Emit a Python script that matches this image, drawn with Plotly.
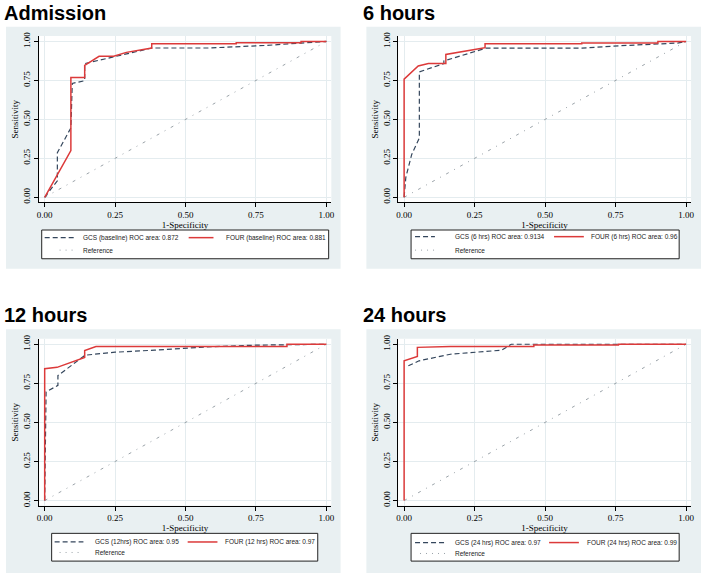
import plotly.graph_objects as go

W, H = 704, 574

# ---------------- data ----------------
panel_titles = ["Admission", "6 hours", "12 hours", "24 hours"]

gcs_adm_x = [0, 0.045, 0.045, 0.093, 0.098, 0.142, 0.142, 0.245, 0.38, 0.58, 0.68, 0.79, 0.91, 1.0]
gcs_adm_y = [0, 0.106, 0.286, 0.445, 0.731, 0.748, 0.858, 0.9, 0.958, 0.958, 0.966, 0.975, 0.99, 1.0]
four_adm_x = [0, 0.093, 0.093, 0.142, 0.142, 0.193, 0.245, 0.29, 0.38, 0.38, 0.68, 0.68, 0.91, 0.91, 1.0]
four_adm_y = [0, 0.30, 0.769, 0.769, 0.847, 0.905, 0.905, 0.93, 0.958, 0.985, 0.985, 0.992, 0.992, 1.0, 1.0]

gcs_6h_x = [0, 0.006, 0.027, 0.054, 0.054, 0.141, 0.141, 0.25, 0.29, 0.63, 0.76, 0.97, 1.0]
gcs_6h_y = [0, 0.127, 0.275, 0.381, 0.805, 0.858, 0.875, 0.932, 0.957, 0.957, 0.972, 0.99, 1.0]
four_6h_x = [0, 0, 0.05, 0.086, 0.148, 0.148, 0.25, 0.287, 0.287, 0.63, 0.63, 0.9, 0.9, 1.0]
four_6h_y = [0, 0.758, 0.843, 0.858, 0.858, 0.917, 0.949, 0.96, 0.985, 0.985, 0.99, 0.99, 1.0, 1.0]

gcs_12h_x = [0, 0.005, 0.047, 0.047, 0.144, 0.25, 0.39, 0.47, 0.6, 0.75, 1.0]
gcs_12h_y = [0, 0.695, 0.737, 0.80, 0.93, 0.949, 0.962, 0.972, 0.985, 0.994, 1.0]
four_12h_x = [0, 0, 0.044, 0.142, 0.142, 0.182, 0.86, 0.86, 1.0]
four_12h_y = [0, 0.843, 0.852, 0.915, 0.96, 0.985, 0.985, 1.0, 1.0]

gcs_24h_x = [0.015, 0.053, 0.164, 0.25, 0.346, 0.38, 1.0]
gcs_24h_y = [0.862, 0.894, 0.936, 0.95, 0.962, 1.0, 1.0]
four_24h_x = [0, 0, 0.047, 0.047, 0.164, 0.46, 0.46, 0.76, 0.76, 1.0]
four_24h_y = [0, 0.894, 0.922, 0.98, 0.985, 0.985, 0.995, 0.995, 1.0, 1.0]

ref_x = [0, 1]
ref_y = [0, 1]

gcs_labels = ["GCS (baseline) ROC area: 0.872", "GCS (6 hrs) ROC area: 0.9134",
              "GCS (12hrs) ROC area: 0.95", "GCS (24 hrs) ROC area: 0.97"]
four_labels = ["FOUR (baseline) ROC area: 0.881", "FOUR (6 hrs) ROC area: 0.96",
               "FOUR (12 hrs) ROC area: 0.97", "FOUR (24 hrs) ROC area: 0.99"]
ref_label = "Reference"

tick_vals = [0, 0.25, 0.5, 0.75, 1.0]
tick_text = ["0.00", "0.25", "0.50", "0.75", "1.00"]

gcs_series = [(gcs_adm_x, gcs_adm_y), (gcs_6h_x, gcs_6h_y), (gcs_12h_x, gcs_12h_y), (gcs_24h_x, gcs_24h_y)]
four_series = [(four_adm_x, four_adm_y), (four_6h_x, four_6h_y), (four_12h_x, four_12h_y), (four_24h_x, four_24h_y)]

# ---------------- layout geometry (pixels) ----------------
def px(x):
    return x / W

def py(y):
    return 1 - y / H

# plot area: (left, top, right, bottom)
plot_boxes = [(37, 32.3, 331.7, 200), (399, 32.3, 694, 200),
              (37, 337.7, 331.7, 506), (399, 337.7, 694, 506)]
grey_boxes = [(4, 23, 341, 267), (367, 23, 704, 267),
              (4, 328, 341, 574), (367, 328, 704, 574)]
title_pos = [(0, 9), (362, 9), (0, 314), (362, 314)]
legend_boxes = [(40, 228, 329, 257), (412, 228, 682, 257),
                (50, 534, 318, 562), (412, 534, 682, 562)]
# legend item geometry: row1 y, row2 y, dash sample x0,x1, gcs text x, red x0,x1, four text x, dot sample x0, ref text x
legend_items = [
    (235.7, 248.3, 43, 75, 80, 188, 213, 224, 58, 80),
    (234.7, 248.3, 416, 436, 454, 556, 586, 591, 416, 454),
    (542.7, 553.3, 53, 82, 92, 187, 217, 223, 58, 92),
    (543.3, 554.3, 416, 447, 454, 551, 581, 587, 421, 454),
]

NAVY = "#34465c"
RED = "#dc3a3a"
REFC = "#9aa2a8"
GRID = "#e4ecef"
BG = "#e9f0f2"

fig = go.Figure()
shapes = []
annotations = []

XR = [-0.0211, 1.0176]
YR = [-0.032, 1.035]

for i in range(4):
    n = "" if i == 0 else str(i + 1)
    xa, ya = "x" + n, "y" + n
    gx, gy = gcs_series[i]
    fx, fy = four_series[i]
    fig.add_trace(go.Scatter(x=ref_x, y=ref_y, mode="lines", xaxis=xa, yaxis=ya,
                             line=dict(color=REFC, width=1, dash="3px,6px,1px,6px"),
                             showlegend=False, hoverinfo="skip"))
    fig.add_trace(go.Scatter(x=gx, y=gy, mode="lines", xaxis=xa, yaxis=ya,
                             line=dict(color=NAVY, width=1.2, dash="5px,3px"),
                             name=gcs_labels[i], showlegend=False))
    fig.add_trace(go.Scatter(x=fx, y=fy, mode="lines", xaxis=xa, yaxis=ya,
                             line=dict(color=RED, width=1.5),
                             name=four_labels[i], showlegend=False))

    l, t, r, b = plot_boxes[i]
    axis_common = dict(showline=True, linecolor="black", linewidth=1,
                       ticks="outside", ticklen=4, tickcolor="black", tickwidth=1,
                       showgrid=True, gridcolor=GRID, gridwidth=1, zeroline=False,
                       tickvals=tick_vals, ticktext=tick_text,
                       tickfont=dict(family="Liberation Serif", size=9, color="black"),
                       fixedrange=True)
    xaxis = dict(axis_common, domain=[px(l), px(r)], range=XR, anchor=ya,
                 title=dict(text="1-Specificity", standoff=0,
                            font=dict(family="Liberation Serif", size=9, color="black")))
    yaxis = dict(axis_common, domain=[py(b), py(t)], range=YR, anchor=xa, tickangle=-90,
                 title=dict(text="Sensitivity", standoff=1,
                            font=dict(family="Liberation Serif", size=9, color="black")))
    fig.update_layout(**{"xaxis" + n: xaxis, "yaxis" + n: yaxis})

    # grey graph region and white plot region
    gl, gt, gr, gb = grey_boxes[i]
    shapes.append(dict(type="rect", xref="paper", yref="paper", x0=px(gl), x1=px(gr),
                       y0=py(gb), y1=py(gt), fillcolor=BG, line=dict(width=0), layer="below"))
    shapes.append(dict(type="rect", xref="paper", yref="paper", x0=px(l), x1=px(r),
                       y0=py(b), y1=py(t), fillcolor="white", line=dict(width=0), layer="below"))

    # panel title
    tx, ty = title_pos[i]
    annotations.append(dict(text="<b>" + panel_titles[i] + "</b>", xref="paper", yref="paper",
                            x=px(tx), y=py(ty), xanchor="left", yanchor="middle", showarrow=False,
                            font=dict(family="Liberation Sans", size=20, color="black")))

    # legend box
    ll, lt, lr, lb = legend_boxes[i]
    shapes.append(dict(type="rect", xref="paper", yref="paper", x0=px(ll), x1=px(lr),
                       y0=py(lb), y1=py(lt), fillcolor="white",
                       line=dict(color="#222222", width=1), layer="above"))
    r1, r2, d0, d1, gtx, rx0, rx1, ftx, o0, rtx = legend_items[i]
    shapes.append(dict(type="line", xref="paper", yref="paper", x0=px(d0), x1=px(d1),
                       y0=py(r1), y1=py(r1), line=dict(color=NAVY, width=1.2, dash="5px,3px")))
    shapes.append(dict(type="line", xref="paper", yref="paper", x0=px(rx0), x1=px(rx1),
                       y0=py(r1), y1=py(r1), line=dict(color=RED, width=1.5)))
    shapes.append(dict(type="line", xref="paper", yref="paper", x0=px(o0), x1=px(d1),
                       y0=py(r2), y1=py(r2), line=dict(color=REFC, width=1, dash="1px,5px")))
    lf = dict(family="Liberation Sans", size=6.5, color="#222222")
    annotations.append(dict(text=gcs_labels[i], xref="paper", yref="paper", x=px(gtx), y=py(r1),
                            xanchor="left", yanchor="middle", showarrow=False, font=lf))
    annotations.append(dict(text=four_labels[i], xref="paper", yref="paper", x=px(ftx), y=py(r1),
                            xanchor="left", yanchor="middle", showarrow=False, font=lf))
    annotations.append(dict(text=ref_label, xref="paper", yref="paper", x=px(rtx), y=py(r2),
                            xanchor="left", yanchor="middle", showarrow=False, font=lf))

fig.update_layout(width=W, height=H, margin=dict(l=0, r=0, t=0, b=0),
                  paper_bgcolor="white", plot_bgcolor="white",
                  shapes=shapes, annotations=annotations, showlegend=False)

fig.write_html("out.html", config={"displayModeBar": False},
               post_script="document.body.style.margin='0';")
